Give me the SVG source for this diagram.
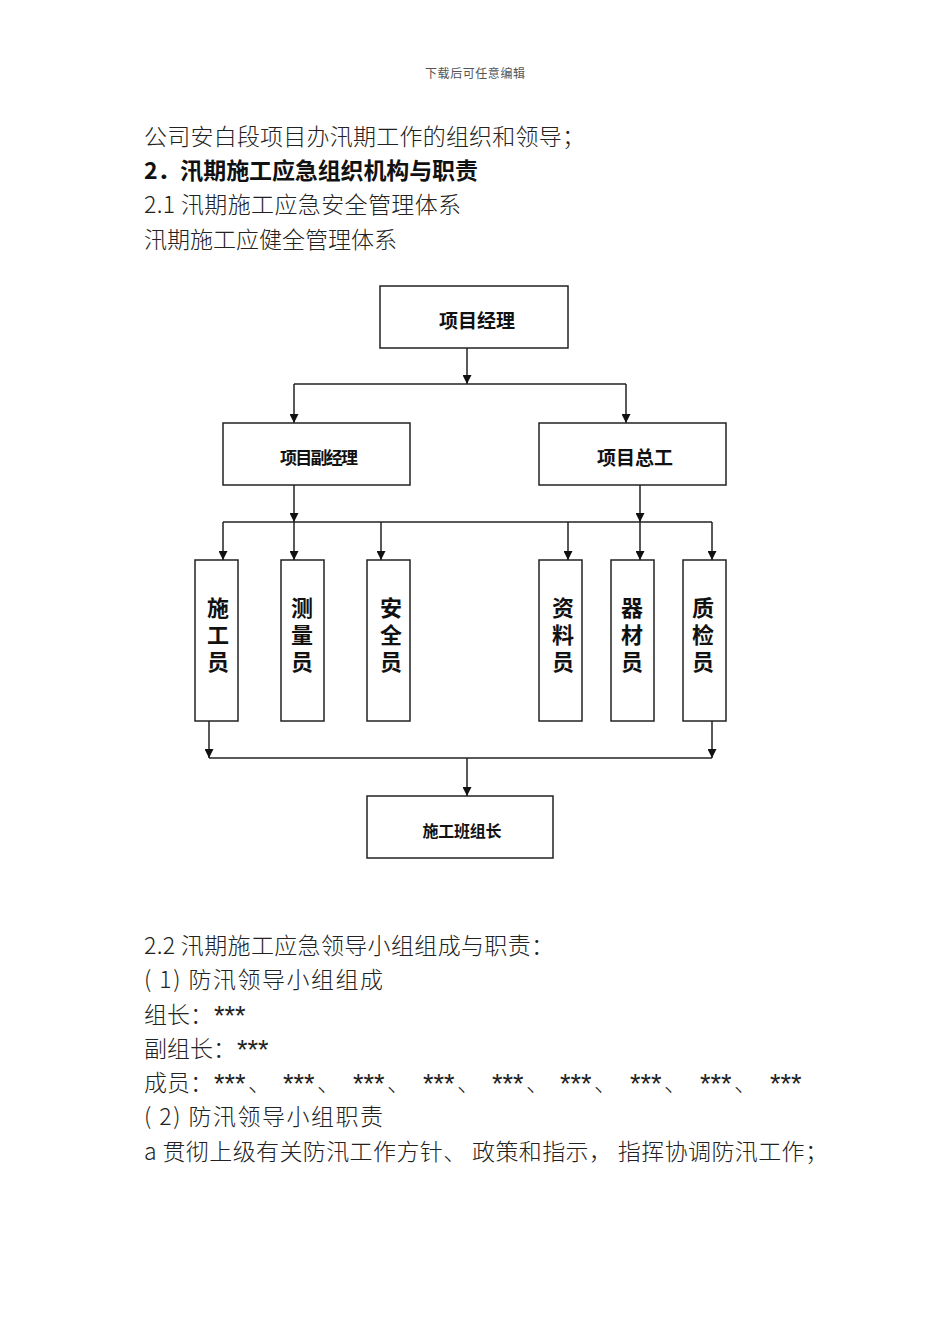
<svg xmlns="http://www.w3.org/2000/svg" width="950" height="1344" viewBox="0 0 950 1344">
<style>
.body{font-family:"Noto Sans CJK SC","Liberation Sans",sans-serif;font-size:23px;fill:#222;font-weight:300}
.h{font-weight:bold;fill:#111}
.ast{font-family:"Liberation Sans",sans-serif;font-size:27px;font-weight:normal}
.hdr{font-family:"Noto Sans CJK SC","Liberation Serif",serif;font-size:12px;fill:#555}
.box{fill:#fff;stroke:#222;stroke-width:1.5}
.lbl{font-family:"Noto Sans CJK SC","Liberation Sans",sans-serif;font-weight:bold;fill:#111;text-anchor:middle}
.v{font-size:22px;writing-mode:vertical-rl;text-orientation:upright;letter-spacing:5px;text-anchor:start}
.conn line{stroke:#222;stroke-width:1.5}
</style>
<defs>
<marker id="ah" viewBox="0 0 10 10" refX="10" refY="5" markerWidth="9" markerHeight="9" markerUnits="userSpaceOnUse" orient="auto">
<path d="M0,0 L10,5 L0,10 z" fill="#111"/>
</marker>
</defs>
<rect width="950" height="1344" fill="#fff"/>
<text class="hdr" x="425" y="78" textLength="100">下载后可任意编辑</text>
<text class="body" x="144" y="145" textLength="441">公司安白段项目办汛期工作的组织和领导；</text>
<text class="body h" x="144" y="179" textLength="334">2．汛期施工应急组织机构与职责</text>
<text class="body" x="144" y="213" textLength="317">2.1 汛期施工应急安全管理体系</text>
<text class="body" x="144" y="248" textLength="253">汛期施工应健全管理体系</text>

<g id="n_pm"><rect class="box" x="380" y="286" width="188" height="62"/><text class="lbl" x="477" y="328" font-size="19">项目经理</text></g>
<g id="n_dpm"><rect class="box" x="223" y="423" width="187" height="62"/><text class="lbl" x="319" y="464" font-size="17" textLength="78">项目副经理</text></g>
<g id="n_ce"><rect class="box" x="539" y="423" width="187" height="62"/><text class="lbl" x="635" y="465" font-size="19">项目总工</text></g>

<g id="n_sg"><rect class="box" x="195" y="560" width="43" height="161"/><text class="lbl v" x="218" y="597">施工员</text></g>
<g id="n_cl"><rect class="box" x="281" y="560" width="43" height="161"/><text class="lbl v" x="302" y="597">测量员</text></g>
<g id="n_aq"><rect class="box" x="367" y="560" width="43" height="161"/><text class="lbl v" x="391" y="597">安全员</text></g>
<g id="n_zl"><rect class="box" x="539" y="560" width="43" height="161"/><text class="lbl v" x="563" y="597">资料员</text></g>
<g id="n_qc"><rect class="box" x="611" y="560" width="43" height="161"/><text class="lbl v" x="632" y="597">器材员</text></g>
<g id="n_zj"><rect class="box" x="683" y="560" width="43" height="161"/><text class="lbl v" x="703" y="597">质检员</text></g>

<g id="n_bz"><rect class="box" x="367" y="796" width="186" height="62"/><text class="lbl" x="462" y="837" font-size="16" textLength="79">施工班组长</text></g>

<g id="connectors" class="conn">
<line x1="467" y1="348" x2="467" y2="384" marker-end="url(#ah)"/>
<line x1="294" y1="384" x2="626" y2="384"/>
<line x1="294" y1="384" x2="294" y2="423" marker-end="url(#ah)"/>
<line x1="626" y1="384" x2="626" y2="423" marker-end="url(#ah)"/>
<line x1="294" y1="485" x2="294" y2="522" marker-end="url(#ah)"/>
<line x1="640" y1="485" x2="640" y2="522" marker-end="url(#ah)"/>
<line x1="223" y1="522" x2="712" y2="522"/>
<line x1="223" y1="522" x2="223" y2="560" marker-end="url(#ah)"/>
<line x1="294" y1="522" x2="294" y2="560" marker-end="url(#ah)"/>
<line x1="381" y1="522" x2="381" y2="560" marker-end="url(#ah)"/>
<line x1="568" y1="522" x2="568" y2="560" marker-end="url(#ah)"/>
<line x1="640" y1="522" x2="640" y2="560" marker-end="url(#ah)"/>
<line x1="712" y1="522" x2="712" y2="560" marker-end="url(#ah)"/>
<line x1="209" y1="721" x2="209" y2="758" marker-end="url(#ah)"/>
<line x1="712" y1="721" x2="712" y2="758" marker-end="url(#ah)"/>
<line x1="209" y1="758" x2="712" y2="758"/>
<line x1="467" y1="758" x2="467" y2="796" marker-end="url(#ah)"/>
</g>

<text class="body" x="144" y="954" textLength="410">2.2 汛期施工应急领导小组组成与职责：</text>
<text class="body" x="144" y="988" textLength="239">( 1) 防汛领导小组组成</text>
<text class="body" x="144" y="1023">组长：<tspan class="ast" x="214" y="1025">***</tspan></text>
<text class="body" x="144" y="1057">副组长：<tspan class="ast" x="237" y="1059">***</tspan></text>
<text class="body" x="144" y="1091">成员：<tspan class="ast" x="214" y="1093">***</tspan><tspan x="248" y="1091">、</tspan><tspan class="ast" x="283" y="1093">***</tspan><tspan x="317" y="1091">、</tspan><tspan class="ast" x="353" y="1093">***</tspan><tspan x="387" y="1091">、</tspan><tspan class="ast" x="423" y="1093">***</tspan><tspan x="457" y="1091">、</tspan><tspan class="ast" x="492" y="1093">***</tspan><tspan x="526" y="1091">、</tspan><tspan class="ast" x="560" y="1093">***</tspan><tspan x="594" y="1091">、</tspan><tspan class="ast" x="630" y="1093">***</tspan><tspan x="664" y="1091">、</tspan><tspan class="ast" x="700" y="1093">***</tspan><tspan x="734" y="1091">、</tspan><tspan class="ast" x="770" y="1093">***</tspan></text>
<text class="body" x="144" y="1125" textLength="239">( 2) 防汛领导小组职责</text>
<text class="body" x="144" y="1160" textLength="684">a 贯彻上级有关防汛工作方针、 政策和指示， 指挥协调防汛工作；</text>
</svg>
